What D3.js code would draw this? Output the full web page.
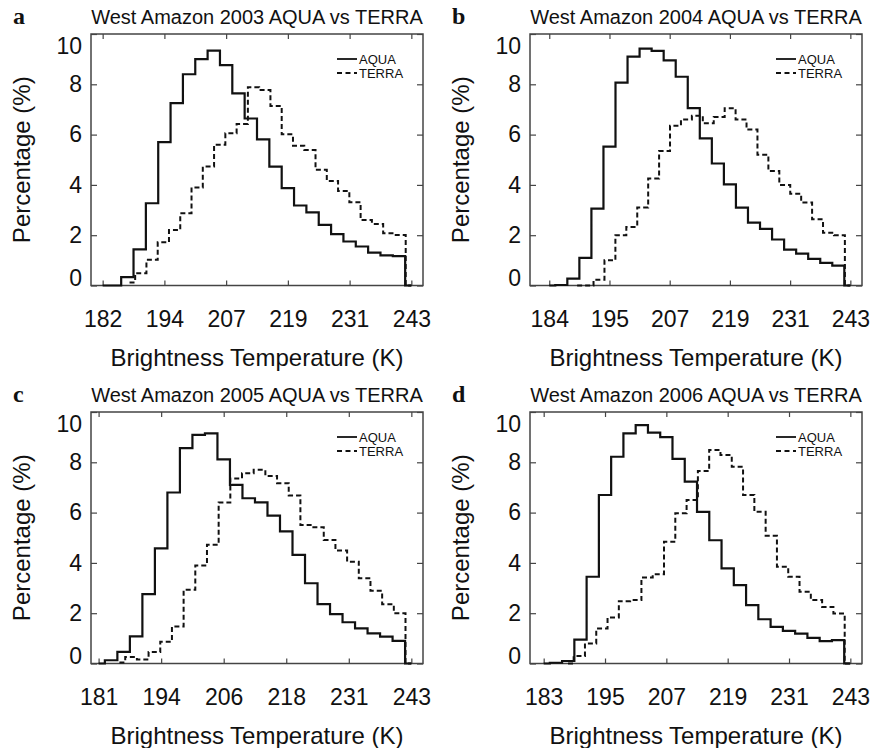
<!DOCTYPE html>
<html>
<head>
<meta charset="utf-8">
<script src="https://cdn.jsdelivr.net/npm/d3@7"></script>
<style>
  body { margin: 0; background: #fff; }
  svg { display: block; font-family: "Liberation Sans", Arial, sans-serif; }
  .tick text { fill: #111; }
</style>
</head>
<body>
<svg id="chart" width="870" height="748"></svg>
<script>
// panel meta
var letters = ["a", "b", "c", "d"];
var years = ["2003", "2004", "2005", "2006"];
var tickLabels = [
    ["182", "194", "207", "219", "231", "243"],
    ["184", "195", "207", "219", "231", "243"],
    ["181", "194", "206", "218", "231", "243"],
    ["183", "195", "207", "219", "231", "243"]
];
var yTicks = [0, 2, 4, 6, 8, 10];

// histogram bins: 26 centres from min to 243 K
var tMax = 243;
var aquaMin = [182.1, 183.6, 181.3, 182.5];
var terraMin = [187.4, 189.1, 185.4, 187.3];

var aqua2003 = [0, 0, 0.33, 1.44, 3.27, 5.7, 7.25, 8.4, 9.0, 9.34, 8.76, 7.64, 6.64, 5.81, 4.73, 3.87, 3.18, 2.91, 2.41, 2.04, 1.75, 1.55, 1.31, 1.2, 1.17, 0];
var terra2003 = [0.12, 0.49, 1.02, 1.72, 2.21, 2.87, 3.9, 4.73, 5.6, 6.05, 6.42, 7.88, 7.77, 7.14, 6.01, 5.56, 5.39, 4.6, 4.16, 3.76, 3.31, 2.6, 2.45, 2.08, 2.01, 0];
var aqua2004 = [0, 0.02, 0.27, 1.1, 3.06, 5.52, 8.07, 9.1, 9.42, 9.33, 8.95, 8.3, 7.05, 5.85, 4.85, 4.02, 3.1, 2.5, 2.25, 1.83, 1.43, 1.27, 1.06, 0.9, 0.79, 0];
var terra2004 = [0, 0, 0.23, 1.0, 2.0, 2.33, 3.1, 4.25, 5.35, 6.35, 6.6, 6.75, 6.45, 6.7, 7.05, 6.6, 6.2, 5.2, 4.55, 4.0, 3.65, 3.3, 2.63, 2.1, 2.0, 0];
var aqua2005 = [0, 0.13, 0.46, 1.08, 2.76, 4.58, 6.8, 8.56, 9.09, 9.15, 8.12, 7.1, 6.57, 6.41, 5.88, 5.25, 4.32, 3.19, 2.36, 1.96, 1.64, 1.4, 1.2, 1.07, 0.9, 0];
var terra2005 = [0.04, 0.26, 0.16, 0.46, 0.86, 1.47, 2.93, 3.9, 4.72, 6.4, 7.36, 7.56, 7.7, 7.46, 7.17, 6.68, 5.51, 5.42, 4.91, 4.49, 4.05, 3.39, 2.89, 2.36, 2.0, 0];
var aqua2006 = [0, 0.03, 0.1, 0.95, 3.45, 6.7, 8.22, 9.15, 9.48, 9.18, 9.0, 8.14, 7.23, 6.03, 4.9, 3.78, 3.12, 2.32, 1.76, 1.46, 1.3, 1.19, 1.02, 0.89, 0.93, 0];
var terra2006 = [0, 0.3, 0.8, 1.39, 1.83, 2.48, 2.52, 3.42, 3.55, 4.84, 5.97, 6.5, 7.65, 8.49, 8.29, 7.82, 6.7, 6.03, 5.08, 3.85, 3.45, 2.85, 2.52, 2.25, 1.99, 0];

var aquaSeries = [aqua2003, aqua2004, aqua2005, aqua2006];
var terraSeries = [terra2003, terra2004, terra2005, terra2006];

// layout
var colX = [91, 530];
var rowY = [34, 412];
var W = 332, H = 251.5;

var svg = d3.select("#chart");

function bins(vals, t0) {
    var step = (tMax - t0) / (vals.length - 1);
    return vals.map(function(v, i) { return {t: t0 + i * step, v: v}; });
}

function drawPanel(p) {
    var left = colX[p % 2], top = rowY[Math.floor(p / 2)];
    var g = svg.append("g").attr("transform", "translate(" + left + "," + top + ")");

    var x = d3.scaleLinear().domain([179.8, 245.3]).range([0, W]);
    var y = d3.scaleLinear().domain([0, 10]).range([H, 0]);

    var xt = d3.range(6).map(function(k) { return aquaMin[p] + k * (tMax - aquaMin[p]) / 5; });

    var bottom = g.append("g").attr("transform", "translate(0," + H + ")")
        .call(d3.axisBottom(x).tickValues(xt).tickSize(-5).tickPadding(25)
            .tickFormat(function(d, i) { return tickLabels[p][i]; }));
    var topAx = g.append("g")
        .call(d3.axisTop(x).tickValues(xt).tickSize(-5).tickFormat(""));
    var leftAx = g.append("g")
        .call(d3.axisLeft(y).tickValues(yTicks).tickSize(-6).tickPadding(9));
    var rightAx = g.append("g").attr("transform", "translate(" + W + ",0)")
        .call(d3.axisRight(y).tickValues(yTicks).tickSize(-6).tickFormat(""));

    [bottom, topAx, leftAx, rightAx].forEach(function(a) {
        a.select(".domain").remove();
        a.selectAll("line").attr("stroke", "#444").attr("stroke-width", 1.2);
        a.selectAll("text").attr("font-size", 23).attr("font-family", "Liberation Sans, Arial, sans-serif");
    });
    // end labels sit inside the frame
    leftAx.selectAll("text").attr("dy", function(d) {
        if (d === 10) return "0.86em";
        if (d === 0) return "0.02em";
        return "0.32em";
    });

    g.append("rect").attr("width", W).attr("height", H)
        .attr("fill", "none").attr("stroke", "#444").attr("stroke-width", 1.5);

    var line = d3.line()
        .x(function(d) { return x(d.t); })
        .y(function(d) { return y(d.v); })
        .curve(d3.curveStep);

    g.append("path").datum(bins(terraSeries[p], terraMin[p]))
        .attr("d", line).attr("fill", "none")
        .attr("stroke", "#111").attr("stroke-width", 2)
        .attr("stroke-dasharray", "5,3");
    g.append("path").datum(bins(aquaSeries[p], aquaMin[p]))
        .attr("d", line).attr("fill", "none")
        .attr("stroke", "#111").attr("stroke-width", 2.2);

    // legend
    var lg = g.append("g").attr("transform", "translate(" + (W - 86) + ",0)");
    lg.append("line").attr("x1", 0).attr("x2", 20).attr("y1", 25).attr("y2", 25)
        .attr("stroke", "#111").attr("stroke-width", 1.8);
    lg.append("line").attr("x1", 0).attr("x2", 20).attr("y1", 39).attr("y2", 39)
        .attr("stroke", "#111").attr("stroke-width", 1.8).attr("stroke-dasharray", "5,3.5");
    lg.append("text").attr("x", 22).attr("y", 25).attr("dy", "0.35em")
        .attr("font-size", 13).attr("fill", "#111").text("AQUA");
    lg.append("text").attr("x", 22).attr("y", 39).attr("dy", "0.35em")
        .attr("font-size", 13).attr("fill", "#111").text("TERRA");

    // titles
    g.append("text").attr("x", W / 2).attr("y", -17).attr("dy", "0.35em")
        .attr("text-anchor", "middle").attr("font-size", 20).attr("fill", "#111")
        .text("West Amazon " + years[p] + " AQUA vs TERRA");
    g.append("text").attr("x", -78).attr("y", -10)
        .attr("font-family", "Liberation Serif, Times New Roman, serif")
        .attr("font-weight", "bold").attr("font-size", 24).attr("fill", "#111")
        .text(letters[p]);
    g.append("text").attr("x", W / 2).attr("y", H + 72).attr("dy", "0.35em")
        .attr("text-anchor", "middle").attr("font-size", 24).attr("fill", "#111")
        .text("Brightness Temperature (K)");
    g.append("text")
        .attr("transform", "translate(-69," + (H / 2) + ") rotate(-90)")
        .attr("dy", "0.35em")
        .attr("text-anchor", "middle").attr("font-size", 24).attr("fill", "#111")
        .text("Percentage (%)");
}

for (var p = 0; p < 4; p++) drawPanel(p);
</script>
</body>
</html>
